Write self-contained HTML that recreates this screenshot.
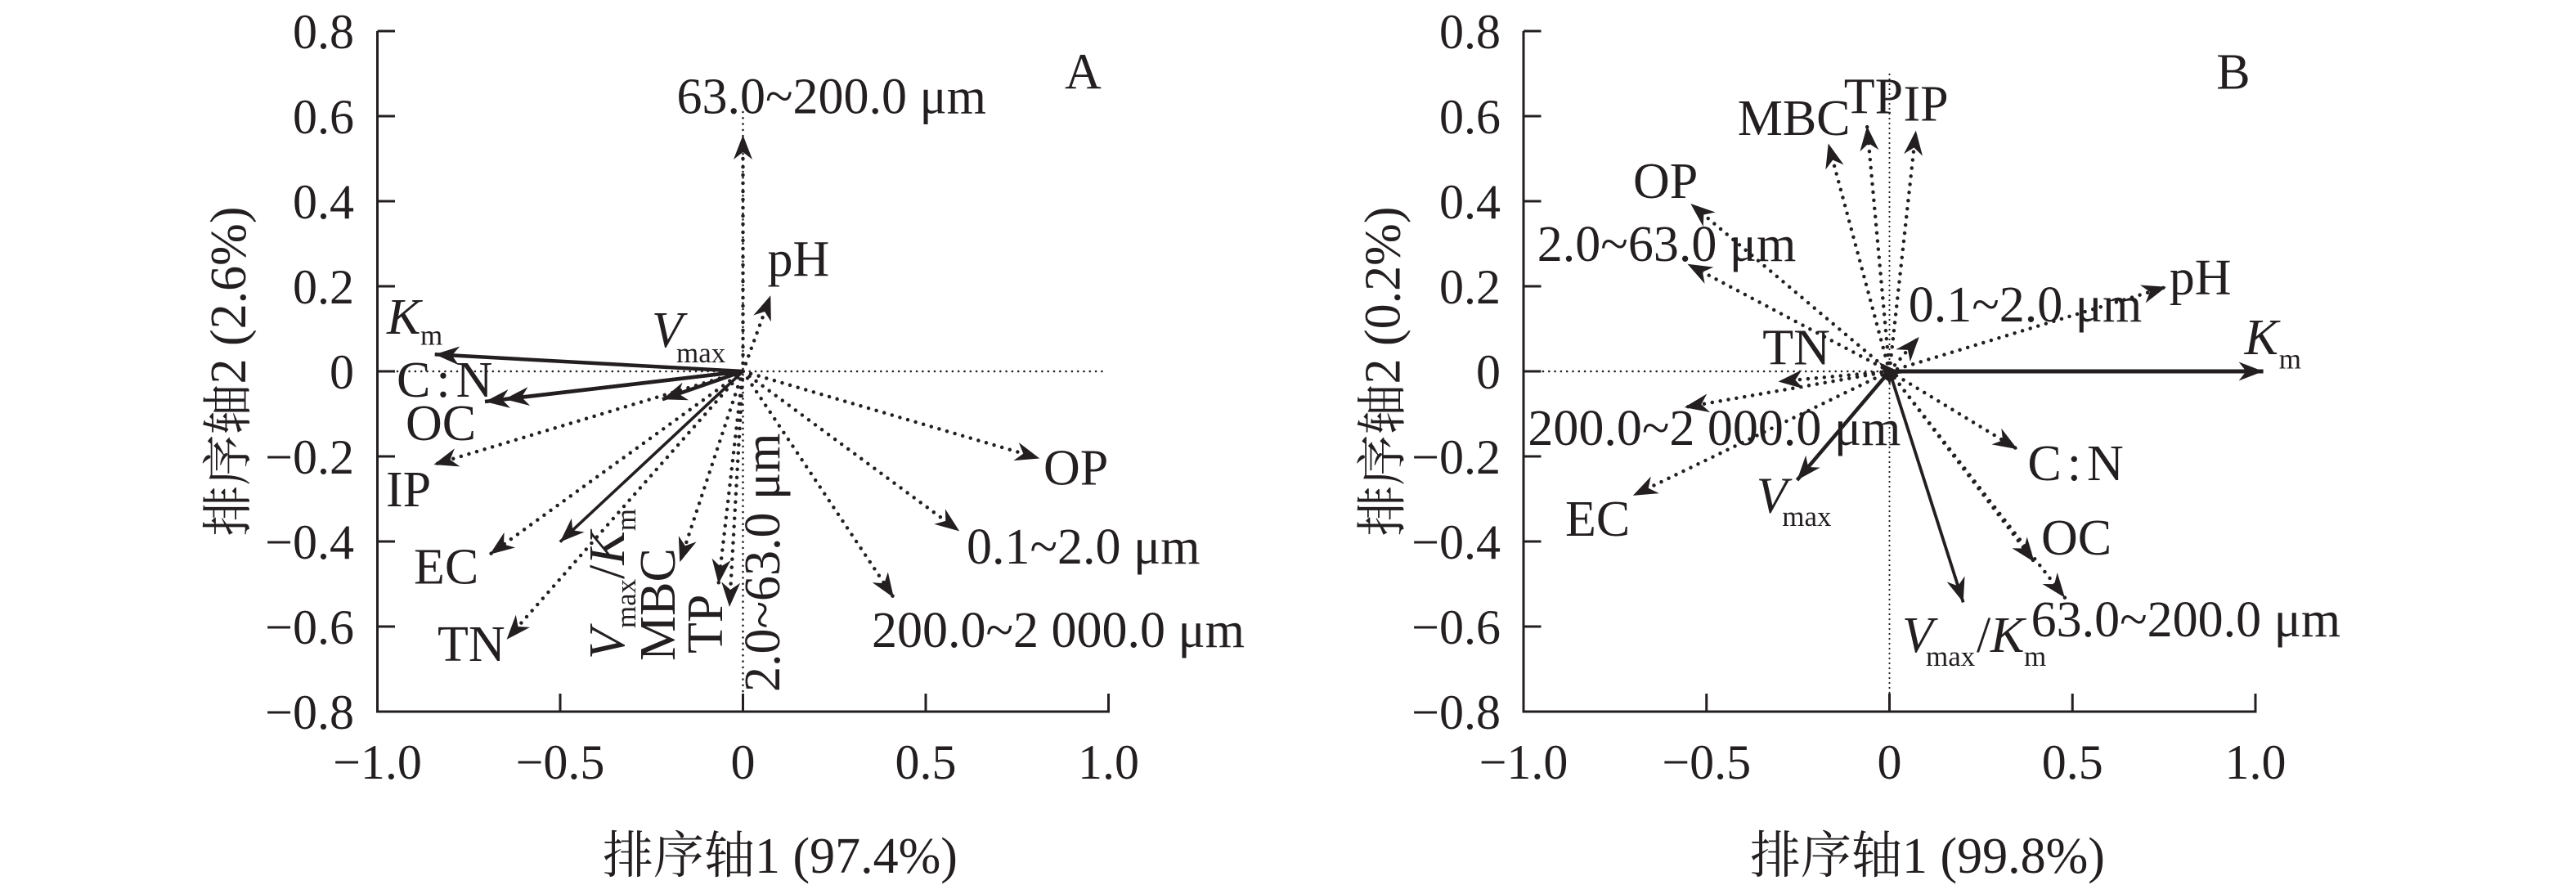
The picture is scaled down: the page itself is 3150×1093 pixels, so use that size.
<!DOCTYPE html>
<html><head><meta charset="utf-8"><style>
html,body{margin:0;padding:0;background:#fff;}
svg{display:block;}
text{font-family:"Liberation Serif","Noto Serif CJK SC",serif;fill:#231f20;}
</style></head><body>
<svg width="3150" height="1093" viewBox="0 0 3150 1093" xmlns="http://www.w3.org/2000/svg">
<defs>
<marker id="h" viewBox="-32 -13 34 26" markerWidth="34" markerHeight="26" refX="0" refY="0" orient="auto" markerUnits="userSpaceOnUse"><path d="M0,0 L-30,-11.5 L-21,0 L-30,11.5 Z" fill="#231f20"/></marker>
</defs>
<rect width="3150" height="1093" fill="#fff"/>

<!-- ================= PANEL A ================= -->
<g stroke="#231f20" fill="none">
<line x1="461.5" y1="38" x2="461.5" y2="871.5" stroke-width="3"/>
<line x1="460" y1="870" x2="1357" y2="870" stroke-width="3"/>
<g stroke-width="3">
<line x1="461.5" y1="38" x2="483" y2="38"/><line x1="461.5" y1="142" x2="483" y2="142"/>
<line x1="461.5" y1="246" x2="483" y2="246"/><line x1="461.5" y1="350" x2="483" y2="350"/>
<line x1="461.5" y1="454" x2="483" y2="454"/><line x1="461.5" y1="558" x2="483" y2="558"/>
<line x1="461.5" y1="662" x2="483" y2="662"/><line x1="461.5" y1="766" x2="483" y2="766"/>
<line x1="685" y1="870" x2="685" y2="848"/><line x1="908.5" y1="870" x2="908.5" y2="848"/>
<line x1="1132" y1="870" x2="1132" y2="848"/><line x1="1355.5" y1="870" x2="1355.5" y2="848"/>
</g>
<!-- reference dotted lines -->
<line x1="486" y1="454" x2="1352" y2="454" stroke-width="2.6" stroke-dasharray="0 7.3" stroke-linecap="round"/>
<line x1="908.5" y1="137" x2="908.5" y2="868" stroke-width="2.6" stroke-dasharray="0 7.3" stroke-linecap="round"/>
<!-- dotted arrows -->
<g stroke-width="4.5" stroke-dasharray="0 10" stroke-linecap="round" marker-end="url(#h)">
<line x1="908.5" y1="454" x2="908.5" y2="165"/>
<line x1="908.5" y1="454" x2="942.3" y2="361.3"/>
<line x1="908.5" y1="454" x2="530.4" y2="568"/>
<line x1="908.5" y1="454" x2="599" y2="677.8"/>
<line x1="908.5" y1="454" x2="619.6" y2="781.8"/>
<line x1="908.5" y1="454" x2="831.3" y2="687.2"/>
<line x1="908.5" y1="454" x2="878.6" y2="713.7"/>
<line x1="908.5" y1="454" x2="892" y2="742"/>
<line x1="908.5" y1="454" x2="1271.4" y2="560.5"/>
<line x1="908.5" y1="454" x2="1173.2" y2="649.4"/>
<line x1="908.5" y1="454" x2="1092.9" y2="730.7"/>
</g>
<!-- solid arrows -->
<g stroke-width="4.5" marker-end="url(#h)">
<line x1="908.5" y1="454" x2="531.7" y2="433.3"/>
<line x1="908.5" y1="454" x2="593" y2="491"/>
<line x1="908.5" y1="454" x2="617" y2="488"/>
<line x1="908.5" y1="454" x2="810" y2="488.3"/>
<line x1="908.5" y1="454" x2="684.8" y2="662.6" stroke-width="3.6"/>
</g>
</g>

<g font-size="60">
<text x="433" y="59" text-anchor="end">0.8</text>
<text x="433" y="163" text-anchor="end">0.6</text>
<text x="433" y="267" text-anchor="end">0.4</text>
<text x="433" y="371" text-anchor="end">0.2</text>
<text x="433" y="475" text-anchor="end">0</text>
<text x="433" y="579" text-anchor="end">−0.2</text>
<text x="433" y="683" text-anchor="end">−0.4</text>
<text x="433" y="787" text-anchor="end">−0.6</text>
<text x="433" y="891" text-anchor="end">−0.8</text>
<text x="461.5" y="952" text-anchor="middle">−1.0</text>
<text x="685" y="952" text-anchor="middle">−0.5</text>
<text x="908.5" y="952" text-anchor="middle">0</text>
<text x="1132" y="952" text-anchor="middle">0.5</text>
<text x="1355.5" y="952" text-anchor="middle">1.0</text>
</g>
<g font-size="62">
<text x="954" y="1067" text-anchor="middle">排序轴1 (97.4%)</text>
<text transform="translate(300,454) rotate(-90)" text-anchor="middle">排序轴2 (2.6%)</text>
<text x="1302" y="108.7">A</text>
<text x="827.5" y="138.5">63.0~200.0 μm</text>
<text x="938.5" y="337">pH</text>
<text x="473" y="408" font-style="italic">K</text>
<text x="514" y="421.5" font-size="35">m</text>
<text x="797" y="424" font-style="italic">V</text>
<text x="827" y="443" font-size="35">max</text>
<text x="485" y="485" letter-spacing="7">C:N</text>
<text x="496" y="538">OC</text>
<text x="472" y="619">IP</text>
<text x="506" y="713.7">EC</text>
<text x="535" y="808">TN</text>
<text x="1276" y="592.7">OP</text>
<text x="1182" y="689">0.1~2.0 μm</text>
<text x="1066" y="791">200.0~2 000.0 μm</text>
<text transform="translate(953,846) rotate(-90)">2.0~63.0 μm</text>
<text transform="translate(883,799) rotate(-90)">TP</text>
<text transform="translate(825,808) rotate(-90)">MBC</text>
<text transform="translate(763,806) rotate(-90)"><tspan font-style="italic">V</tspan><tspan font-size="35" dy="14">max</tspan><tspan dy="-14">/</tspan><tspan font-style="italic">K</tspan><tspan font-size="35" dy="14">m</tspan></text>
</g>

<!-- ================= PANEL B ================= -->
<g stroke="#231f20" fill="none">
<line x1="1863" y1="38" x2="1863" y2="871.5" stroke-width="3"/>
<line x1="1861.5" y1="870" x2="2759.5" y2="870" stroke-width="3"/>
<g stroke-width="3">
<line x1="1863" y1="38" x2="1884.5" y2="38"/><line x1="1863" y1="142" x2="1884.5" y2="142"/>
<line x1="1863" y1="246" x2="1884.5" y2="246"/><line x1="1863" y1="350" x2="1884.5" y2="350"/>
<line x1="1863" y1="454" x2="1884.5" y2="454"/><line x1="1863" y1="558" x2="1884.5" y2="558"/>
<line x1="1863" y1="662" x2="1884.5" y2="662"/><line x1="1863" y1="766" x2="1884.5" y2="766"/>
<line x1="2086.75" y1="870" x2="2086.75" y2="848"/><line x1="2310.5" y1="870" x2="2310.5" y2="848"/>
<line x1="2534.25" y1="870" x2="2534.25" y2="848"/><line x1="2758" y1="870" x2="2758" y2="848"/>
</g>
<line x1="1887" y1="454" x2="2310" y2="454" stroke-width="2.6" stroke-dasharray="0 7.3" stroke-linecap="round"/>
<line x1="2310.5" y1="91" x2="2310.5" y2="868" stroke-width="2.2" stroke-dasharray="0 6" stroke-linecap="round"/>
<g stroke-width="4.5" stroke-dasharray="0 10" stroke-linecap="round" marker-end="url(#h)">
<line x1="2310.5" y1="454" x2="2235.7" y2="175.4"/>
<line x1="2310.5" y1="454" x2="2283.1" y2="154.3"/>
<line x1="2310.5" y1="454" x2="2342.8" y2="159.6"/>
<line x1="2310.5" y1="454" x2="2067.3" y2="249"/>
<line x1="2310.5" y1="454" x2="2063.5" y2="322.7"/>
<line x1="2310.5" y1="454" x2="2649" y2="350.8"/>
<line x1="2310.5" y1="454" x2="2346.7" y2="412"/>
<line x1="2310.5" y1="454" x2="2174.5" y2="466.5"/>
<line x1="2310.5" y1="454" x2="2059.7" y2="498"/>
<line x1="2310.5" y1="454" x2="1996.8" y2="605.9"/>
<line x1="2310.5" y1="454" x2="2467" y2="549.2"/>
<line x1="2310.5" y1="454" x2="2487.7" y2="687.2"/>
<line x1="2310.5" y1="454" x2="2525" y2="730.7"/>
</g>
<g stroke-width="4.5" marker-end="url(#h)">
<line x1="2310.5" y1="454" x2="2767.6" y2="454" stroke-width="5"/>
<line x1="2310.5" y1="454" x2="2197.5" y2="587"/>
<line x1="2310.5" y1="454" x2="2400.7" y2="736.4" stroke-width="3.8"/>
</g>
</g>
<path d="M2298,443 L2327,456.4 L2312.8,457.8 L2311.4,472 Z" fill="#231f20"/>
<circle cx="2311" cy="458" r="8" fill="#231f20"/>

<g font-size="60">
<text x="1835" y="59" text-anchor="end">0.8</text>
<text x="1835" y="163" text-anchor="end">0.6</text>
<text x="1835" y="267" text-anchor="end">0.4</text>
<text x="1835" y="371" text-anchor="end">0.2</text>
<text x="1835" y="475" text-anchor="end">0</text>
<text x="1835" y="579" text-anchor="end">−0.2</text>
<text x="1835" y="683" text-anchor="end">−0.4</text>
<text x="1835" y="787" text-anchor="end">−0.6</text>
<text x="1835" y="891" text-anchor="end">−0.8</text>
<text x="1863" y="952" text-anchor="middle">−1.0</text>
<text x="2086.75" y="952" text-anchor="middle">−0.5</text>
<text x="2310.5" y="952" text-anchor="middle">0</text>
<text x="2534.25" y="952" text-anchor="middle">0.5</text>
<text x="2758" y="952" text-anchor="middle">1.0</text>
</g>
<g font-size="62">
<text x="2357" y="1067" text-anchor="middle">排序轴1 (99.8%)</text>
<text transform="translate(1711.5,454) rotate(-90)" text-anchor="middle">排序轴2 (0.2%)</text>
<text x="2710.2" y="108.7">B</text>
<text x="2124.7" y="165">MBC</text>
<text x="2254.8" y="138.5">TP</text>
<text x="2327.5" y="147.3">IP</text>
<text x="1997" y="242">OP</text>
<text x="1879.8" y="319">2.0~63.0 μm</text>
<text x="2652.8" y="359.5">pH</text>
<text x="2333.7" y="392.8">0.1~2.0 μm</text>
<text x="2744.6" y="433" font-style="italic">K</text>
<text x="2786.7" y="450.7" font-size="35">m</text>
<text x="2155.3" y="445.5">TN</text>
<text x="1868.4" y="544">200.0~2 000.0 μm</text>
<text x="1914" y="655">EC</text>
<text x="2147.8" y="626.7" font-style="italic">V</text>
<text x="2179.3" y="643" font-size="35">max</text>
<text x="2326" y="797" font-style="italic">V</text>
<text x="2355" y="814" font-size="35">max</text>
<text x="2417" y="797">/</text>
<text x="2434" y="797" font-style="italic">K</text>
<text x="2475" y="814" font-size="35">m</text>
<text x="2479.4" y="587" letter-spacing="7">C:N</text>
<text x="2496" y="677.8">OC</text>
<text x="2483.6" y="778">63.0~200.0 μm</text>
</g>
</svg>
</body></html>
